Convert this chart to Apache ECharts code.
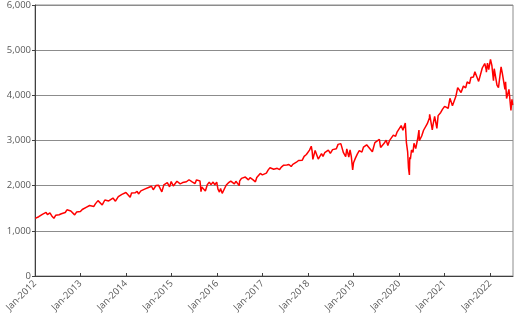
<!DOCTYPE html>
<html>
<head>
<meta charset="utf-8">
<script src="https://cdn.jsdelivr.net/npm/echarts@6/dist/echarts.min.js"></script>
<style>html,body{margin:0;padding:0;background:#fff}#c{width:529px;height:327px}</style>
</head>
<body>
<div id="c"></div>
<script>
const dates = [
'2012-01-03','2012-01-17','2012-01-31','2012-02-15','2012-02-29','2012-03-15','2012-03-30','2012-04-10','2012-04-30','2012-05-15','2012-06-01','2012-06-15','2012-06-29','2012-07-13','2012-07-31','2012-08-15','2012-08-31','2012-09-14','2012-09-28','2012-10-15','2012-10-31','2012-11-15','2012-11-30','2012-12-14','2012-12-31',
'2013-01-15','2013-01-31','2013-02-15','2013-02-28','2013-03-15','2013-03-28','2013-04-18','2013-04-30','2013-05-21','2013-05-31','2013-06-24','2013-06-28','2013-07-15','2013-07-31','2013-08-15','2013-08-30','2013-09-18','2013-09-30','2013-10-08','2013-10-31','2013-11-15','2013-11-29','2013-12-13','2013-12-31',
'2014-01-15','2014-02-03','2014-02-14','2014-02-28','2014-03-14','2014-03-31','2014-04-11','2014-04-30','2014-05-15','2014-05-30','2014-06-13','2014-06-30','2014-07-24','2014-08-07','2014-08-29','2014-09-18','2014-09-30','2014-10-15','2014-10-31','2014-11-14','2014-11-28','2014-12-16','2014-12-29',
'2015-01-15','2015-01-30','2015-02-13','2015-02-27','2015-03-11','2015-03-31','2015-04-15','2015-04-30','2015-05-21','2015-05-29','2015-06-15','2015-06-29','2015-07-08','2015-07-20','2015-07-31','2015-08-17','2015-08-25','2015-08-31','2015-09-16','2015-09-29','2015-10-15','2015-10-30','2015-11-03','2015-11-13','2015-11-30','2015-12-14','2015-12-29',
'2016-01-08','2016-01-20','2016-01-29','2016-02-11','2016-02-29','2016-03-15','2016-03-31','2016-04-20','2016-04-29','2016-05-19','2016-05-31','2016-06-08','2016-06-27','2016-06-30','2016-07-15','2016-07-29','2016-08-15','2016-08-31','2016-09-09','2016-09-22','2016-10-14','2016-11-04','2016-11-15','2016-11-30','2016-12-13','2016-12-30',
'2017-01-13','2017-01-31','2017-02-15','2017-02-28','2017-03-01','2017-03-15','2017-03-31','2017-04-13','2017-04-28','2017-05-17','2017-05-31','2017-06-19','2017-06-30','2017-07-14','2017-07-31','2017-08-18','2017-08-31','2017-09-15','2017-09-29','2017-10-16','2017-10-31','2017-11-15','2017-11-30','2017-12-18','2017-12-29',
'2018-01-12','2018-01-26','2018-02-02','2018-02-08','2018-02-26','2018-03-09','2018-03-23','2018-04-02','2018-04-18','2018-04-30','2018-05-14','2018-05-29','2018-06-12','2018-06-28','2018-07-16','2018-07-31','2018-08-15','2018-08-29','2018-09-20','2018-09-28','2018-10-11','2018-10-29','2018-11-07','2018-11-23','2018-12-03','2018-12-13','2018-12-24','2018-12-31',
'2019-01-15','2019-01-31','2019-02-15','2019-02-28','2019-03-08','2019-03-21','2019-03-29','2019-04-15','2019-04-30','2019-05-13','2019-05-31','2019-06-03','2019-06-20','2019-06-28','2019-07-26','2019-08-05','2019-08-15','2019-08-30','2019-09-19','2019-09-30','2019-10-02','2019-10-15','2019-10-31','2019-11-15','2019-11-29','2019-12-03','2019-12-16','2019-12-31',
'2020-01-17','2020-01-31','2020-02-19','2020-02-28','2020-03-09','2020-03-16','2020-03-23','2020-03-26','2020-03-31','2020-04-09','2020-04-21','2020-04-29','2020-05-13','2020-05-29','2020-06-08','2020-06-11','2020-06-30','2020-07-15','2020-07-31','2020-08-14','2020-08-31','2020-09-02','2020-09-23','2020-09-30','2020-10-12','2020-10-30','2020-11-09','2020-11-30','2020-12-15','2020-12-31',
'2021-01-15','2021-01-29','2021-02-12','2021-03-04','2021-03-31','2021-04-15','2021-04-30','2021-05-12','2021-05-31','2021-06-18','2021-06-30','2021-07-19','2021-07-30','2021-08-19','2021-08-31','2021-09-02','2021-09-30','2021-10-04','2021-10-29','2021-11-18','2021-11-30','2021-12-01','2021-12-10','2021-12-20',
'2022-01-03','2022-01-14','2022-01-27','2022-02-02','2022-02-24','2022-03-08','2022-03-29','2022-04-08','2022-04-29','2022-05-04','2022-05-12','2022-05-20','2022-05-31','2022-06-08','2022-06-16','2022-06-24','2022-06-30'
];
const values = [
1277,1293,1312,1343,1366,1402,1408,1358,1398,1330,1278,1343,1362,1356,1379,1405,1406,1465,1440,1440,1412,1353,1416,1413,1426,
1472,1498,1519,1515,1561,1569,1541,1597,1669,1631,1573,1606,1683,1686,1661,1633,1725,1682,1656,1757,1798,1806,1775,1848,
1848,1741,1838,1859,1841,1872,1816,1884,1870,1924,1937,1960,1988,1910,2003,2011,1972,1862,2018,2039,2068,1973,2091,
1993,1995,2097,2105,2040,2068,2106,2086,2131,2107,2084,2058,2046,2128,2104,2102,1868,1972,1996,1884,2024,2079,2109,2023,2080,2021,2078,
1922,1859,1940,1829,1932,2015,2060,2102,2065,2040,2097,2112,2000,2099,2162,2174,2190,2171,2128,2177,2133,2085,2180,2199,2271,2239,
2275,2279,2350,2364,2396,2385,2363,2329,2384,2357,2412,2453,2423,2459,2470,2425,2472,2500,2519,2557,2575,2564,2648,2690,2674,
2786,2873,2762,2581,2780,2786,2588,2582,2708,2648,2730,2690,2787,2716,2798,2816,2818,2914,2931,2914,2729,2641,2814,2633,2790,2650,2351,2507,
2610,2704,2776,2784,2743,2855,2834,2905,2946,2812,2752,2744,2954,2942,3026,2845,2848,2926,3006,2977,2887,2996,3038,3120,3141,3093,3192,3231,
3330,3226,3386,2954,2747,2386,2237,2630,2585,2790,2737,2940,2820,3044,3232,2998,3100,3227,3271,3373,3500,3580,3237,3363,3534,3270,3551,3622,3695,3756,
3768,3714,3934,3768,3973,4170,4181,4063,4204,4166,4298,4258,4395,4406,4523,4537,4308,4300,4605,4705,4567,4513,4712,4568,
4797,4663,4326,4589,4225,4171,4631,4488,4132,4300,3930,3901,4132,4116,3667,3912,3785
];
const yTicks = [0,1000,2000,3000,4000,5000,6000];

function decYear(s){
  const p = s.split('-').map(Number);
  const t = Date.UTC(p[0], p[1]-1, p[2]);
  const a = Date.UTC(p[0],0,1), b = Date.UTC(p[0]+1,0,1);
  return p[0] + (t-a)/(b-a);
}
const data = dates.map((d,i)=>[decYear(d), values[i]]);
const fmt = v => String(v).replace(/\B(?=(\d{3})+(?!\d))/g, ',');

const chart = echarts.init(document.getElementById('c'), null, {renderer:'canvas'});
chart.setOption({
  animation:false,
  grid:{left:35,right:16,top:5,bottom:51,show:true,borderColor:'#8c8c8c',borderWidth:1,backgroundColor:'transparent'},
  xAxis:{
    type:'value',min:2012,max:2022.5,interval:1,
    axisLine:{show:true,lineStyle:{color:'#404040',width:1}},
    axisTick:{show:true,inside:true,length:3,lineStyle:{color:'#404040'}},
    splitLine:{show:false},
    axisLabel:{rotate:45,fontSize:9.5,color:'#595959',fontFamily:'Open Sans',margin:6,showMaxLabel:false,
      formatter:v=>Number.isInteger(v)?'Jan-'+v:''}
  },
  yAxis:{
    type:'value',min:yTicks[0],max:yTicks[yTicks.length-1],interval:1000,
    axisLine:{show:true,lineStyle:{color:'#404040',width:1}},
    axisTick:{show:true,length:3,lineStyle:{color:'#404040'}},
    splitLine:{show:true,lineStyle:{color:'#8c8c8c',width:1}},
    axisLabel:{fontSize:9.5,color:'#595959',fontFamily:'Open Sans',margin:4,formatter:v=>fmt(v)}
  },
  series:[{type:'line',data:data,showSymbol:false,symbol:'none',lineStyle:{color:'#ff0000',width:1.5},itemStyle:{color:'#ff0000'}}]
});
</script>
</body>
</html>
